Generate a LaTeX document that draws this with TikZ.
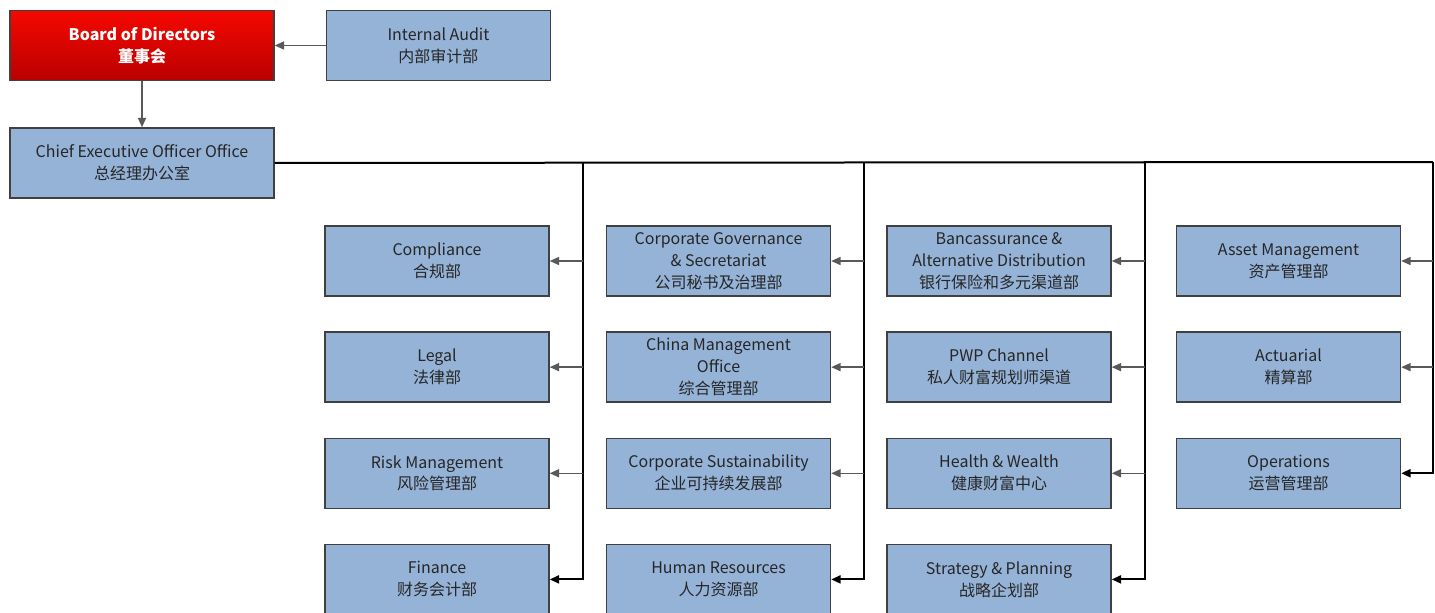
\documentclass[tikz,border=0pt]{standalone}
\usepackage{fontspec}
\newfontfamily\cjk{Noto Sans CJK SC}
\usetikzlibrary{positioning,arrows.meta}
\definecolor{unitblue}{RGB}{149,179,215}
\definecolor{edgegray}{RGB}{64,64,64}
\definecolor{branchgray}{RGB}{89,89,89}
\definecolor{boardtop}{RGB}{245,8,0}
\definecolor{boardbot}{RGB}{185,0,0}
\tikzstyle{unitbox} = [draw=edgegray, line width=1.1pt, fill=unitblue, text=black!85, minimum width=168pt, minimum height=52.5pt, align=center, inner sep=2pt, font=\cjk\fontsize{12pt}{16.5pt}\selectfont]
\tikzstyle{headbox} = [unitbox, minimum width=198pt]
\tikzstyle{boardbox} = [headbox, top color=boardtop, bottom color=boardbot, text=white, font=\cjk\bfseries\fontsize{12pt}{16.5pt}\selectfont]
\tikzstyle{branch} = [line width=1.1pt, draw=branchgray, ->, >={Triangle[length=7pt,width=6pt]}]
\tikzstyle{trunk} = [line width=1.5pt, draw=black]
\tikzstyle{lastarrow} = [trunk, ->, >={Triangle[length=7pt,width=6pt]}]

\begin{document}
\begin{tikzpicture}[x=0.75pt, y=-0.75pt, node distance=26pt]
    \path [use as bounding box, fill=white] (0,0) rectangle (1435,612);

    % top of the chart
    \node (board) [boardbox] at (142,45.5) {Board of Directors\\董事会};
    \node (audit) [unitbox, right=38.25pt of board] {Internal Audit\\内部审计部};
    \draw [branch] (audit) -- (board);
    \node (ceo) [headbox, below=34.5pt of board] {Chief Executive Officer Office\\总经理办公室};
    \draw [branch] (board) -- (ceo);

    % drop points on the trunk line
    \coordinate (bus1) at (583,162);
    \coordinate (bus2) at (864,162);
    \coordinate (bus3) at (1145,162);
    \coordinate (bus4) at (1433,162);
    \draw [trunk] (ceo.east) -- (bus4);

    % first column
    \node (compliance) [unitbox] at (437,261) {Compliance\\合规部};
    \node (legal) [unitbox, below=of compliance] {Legal\\法律部};
    \node (risk) [unitbox, below=of legal] {Risk Management\\风险管理部};
    \node (finance) [unitbox, below=of risk] {Finance\\财务会计部};
    \draw [lastarrow] (bus1) |- (finance);
    \draw [branch] (bus1 |- compliance) -- (compliance);
    \draw [branch] (bus1 |- legal) -- (legal);
    \draw [branch] (bus1 |- risk) -- (risk);

    % second column
    \node (governance) [unitbox] at (718.5,261) {Corporate Governance\\\& Secretariat\\公司秘书及治理部};
    \node (china) [unitbox, below=of governance] {China Management\\Office\\综合管理部};
    \node (sustain) [unitbox, below=of china] {Corporate Sustainability\\企业可持续发展部};
    \node (hr) [unitbox, below=of sustain] {Human Resources\\人力资源部};
    \draw [lastarrow] (bus2) |- (hr);
    \draw [branch] (bus2 |- governance) -- (governance);
    \draw [branch] (bus2 |- china) -- (china);
    \draw [branch] (bus2 |- sustain) -- (sustain);

    % third column
    \node (banca) [unitbox] at (999,261) {Bancassurance \&\\Alternative Distribution\\银行保险和多元渠道部};
    \node (pwp) [unitbox, below=of banca] {PWP Channel\\私人财富规划师渠道};
    \node (health) [unitbox, below=of pwp] {Health \& Wealth\\健康财富中心};
    \node (strategy) [unitbox, below=of health] {Strategy \& Planning\\战略企划部};
    \draw [lastarrow] (bus3) |- (strategy);
    \draw [branch] (bus3 |- banca) -- (banca);
    \draw [branch] (bus3 |- pwp) -- (pwp);
    \draw [branch] (bus3 |- health) -- (health);

    % fourth column
    \node (asset) [unitbox] at (1288.5,261) {Asset Management\\资产管理部};
    \node (actuarial) [unitbox, below=of asset] {Actuarial\\精算部};
    \node (ops) [unitbox, below=of actuarial] {Operations\\运营管理部};
    \draw [lastarrow] (bus4) |- (ops);
    \draw [branch] (bus4 |- asset) -- (asset);
    \draw [branch] (bus4 |- actuarial) -- (actuarial);

  \end{tikzpicture}
\end{document}
